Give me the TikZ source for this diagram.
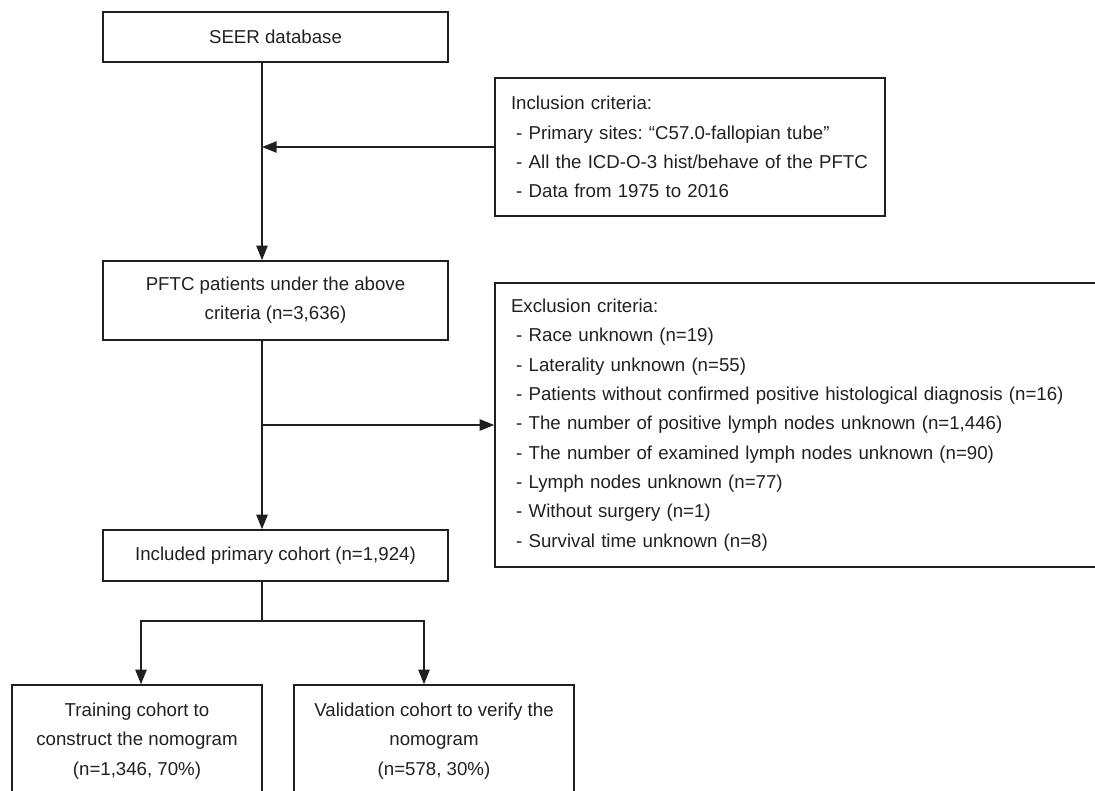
\documentclass[tikz,border=0pt]{standalone}
\usepackage{fontspec}
\setmainfont{Liberation Sans}
\usetikzlibrary{arrows.meta}
\definecolor{FlowInk}{HTML}{231F20}
\newcommand{\critem}{\hspace*{0.28em}- }

\begin{document}
\frenchspacing
\begin{tikzpicture}[
    x=0.75pt,y=-0.75pt,
    font=\fontsize{14}{22}\selectfont,
    box/.style={draw=FlowInk,text=FlowInk,line width=1.1pt,inner sep=0pt,align=center},
    listbox/.style={box,align=left,inner xsep=12pt},
    flow/.style={-{Triangle[length=11pt,width=8.5pt]},line width=1.1pt,FlowInk},
    link/.style={line width=1.1pt,FlowInk}
  ]
    \path[use as bounding box] (0,0) rectangle (1095,791);
    \clip (0,0) rectangle (1095,791);

    % main column
    \node[box,minimum width=258.75pt,minimum height=37.5pt] (seer) at (275.5,37) {SEER database};
    \node[box,minimum width=258.75pt,minimum height=59.25pt] (pftc) at (275.5,300.5) {PFTC patients under the above\\criteria (n=3,636)};
    \node[box,minimum width=258.75pt,minimum height=38.25pt] (incd) at (275.5,555.5) {Included primary cohort (n=1,924)};

    % criteria
    \node[listbox,text width=268.5pt,minimum height=103.5pt] (incl) at (690,147) {Inclusion criteria:\\
      \critem Primary sites: “C57.0-fallopian tube”\\
      \critem All the ICD-O-3 hist/behave of the PFTC\\
      \critem Data from 1975 to 2016};
    \node[listbox,text width=437.25pt,minimum height=213pt] (excl) at (802.5,425) {Exclusion criteria:\\
      \critem Race unknown (n=19)\\
      \critem Laterality unknown (n=55)\\
      \critem Patients without confirmed positive histological diagnosis (n=16)\\
      \critem The number of positive lymph nodes unknown (n=1,446)\\
      \critem The number of examined lymph nodes unknown (n=90)\\
      \critem Lymph nodes unknown (n=77)\\
      \critem Without surgery (n=1)\\
      \critem Survival time unknown (n=8)};

    % cohorts
    \node[box,minimum width=187.5pt,minimum height=84pt] (train) at (137,741) {Training cohort to\\construct the nomogram\\(n=1,346, 70\%)};
    \node[box,minimum width=210pt,minimum height=84pt] (valid) at (434,741) {Validation cohort to verify the\\nomogram\\(n=578, 30\%)};

    \coordinate (spine) at (262,0);
    \coordinate (split) at (262,621);

    \draw[flow] (seer.south -| spine) -- (pftc.north -| spine);
    \draw[flow] (incl.west) -- (incl.west -| spine);
    \draw[flow] (pftc.south -| spine) -- (incd.north -| spine);
    \draw[flow] (excl.west -| spine) -- (excl.west);
    \draw[link] (incd.south -| spine) -- (split);
    \draw[flow] (split) -| ([xshift=3pt]train.north);
    \draw[flow] (split) -| ([xshift=-7.5pt]valid.north);
\end{tikzpicture}
\end{document}
